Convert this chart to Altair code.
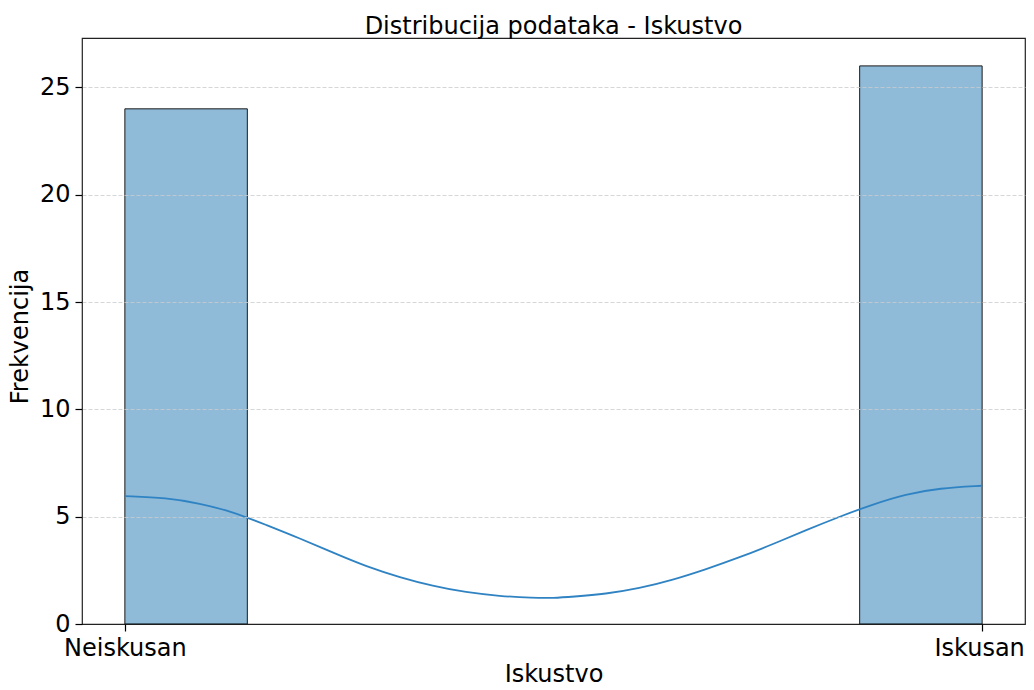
import altair as alt
import pandas as pd

# Histogram bins (7 bins over 0..1) – only non-empty bins drawn
bin_start = [0.0, 6 / 7]
bin_end = [1 / 7, 1.0]
counts = [24, 26]

# KDE curve (x in data units, y = frequency)
kde_x = [0.0, 0.049, 0.087, 0.126, 0.165, 0.204, 0.243, 0.282, 0.321, 0.359,
         0.398, 0.437, 0.476, 0.50, 0.522, 0.561, 0.600, 0.639, 0.678, 0.717,
         0.756, 0.795, 0.833, 0.872, 0.911, 0.950, 1.0]
kde_y = [5.96, 5.88, 5.62, 5.23, 4.61, 3.99, 3.32, 2.67, 2.17, 1.77,
         1.47, 1.30, 1.22, 1.21, 1.27, 1.40, 1.66, 2.05, 2.55, 3.10,
         3.72, 4.38, 4.99, 5.57, 6.05, 6.33, 6.44]

tick_vals = [0, 1]
tick_labels = ["Neiskusan", "Iskusan"]
y_ticks = [0, 5, 10, 15, 20, 25]

bars_df = pd.DataFrame({"x0": bin_start, "x1": bin_end, "n": counts})
kde_df = pd.DataFrame({"x": kde_x, "y": kde_y})

FONT = "DejaVu Sans"
FS = 24

label_expr = "datum.value == 0 ? '" + tick_labels[0] + "' : '" + tick_labels[1] + "'"

xscale = alt.Scale(domain=[-0.05, 1.05], nice=False, zero=False)
yscale = alt.Scale(domain=[0, 27.3], nice=False)

xaxis = alt.Axis(
    values=tick_vals, labelExpr=label_expr, title="Iskustvo", grid=False,
    domain=False, tickColor="black", tickSize=7, tickWidth=1.2,
    labelFont=FONT, labelFontSize=FS, labelColor="black", labelPadding=5,
    labelFlush=False, labelOverlap=False,
    labelOffset={"condition": {"test": "datum.value == 1", "value": -3}, "value": 0},
    titleFont=FONT, titleFontSize=FS, titleFontWeight="normal", titleColor="black",
    titleBaseline="alphabetic", titleY=57,
)
yaxis = alt.Axis(
    values=y_ticks, title="Frekvencija", grid=True, zindex=1,
    gridColor="#cccccc", gridDash=[4, 2], gridWidth=0.8,
    gridOpacity={"condition": {"test": "datum.value == 0", "value": 0}, "value": 1},
    domain=False, tickColor="black", tickSize=7, tickWidth=1.2,
    labelFont=FONT, labelFontSize=FS, labelColor="black", labelPadding=5,
    titleFont=FONT, titleFontSize=FS, titleFontWeight="normal", titleColor="black",
    titleX=-50, titleY=298,
)

bars = alt.Chart(bars_df).mark_rect(
    fill="#1f77b4", fillOpacity=0.5, stroke="#1a1a1a", strokeWidth=1
).encode(
    x=alt.X("x0:Q", scale=xscale, axis=xaxis),
    x2="x1:Q",
    y=alt.Y("n:Q", scale=yscale, axis=yaxis),
    y2=alt.datum(0),
)

kde = alt.Chart(kde_df).mark_line(
    color="#2f83c3", strokeWidth=1.8, interpolate="basis"
).encode(
    x=alt.X("x:Q", scale=xscale),
    y=alt.Y("y:Q", scale=yscale),
)

chart = alt.layer(bars, kde).properties(
    width=943,
    height=586,
    autosize=alt.AutoSizeParams(type="none"),
    padding={"left": 74, "top": 30, "right": 1, "bottom": 58},
    title=alt.TitleParams(
        "Distribucija podataka - Iskustvo", font=FONT, fontSize=FS,
        fontWeight="normal", color="black", anchor="middle", baseline="bottom",
        offset=2, dy=27,
    ),
).configure_view(stroke="#222222", strokeWidth=1.2)

chart.save("out.html", embed_options={"renderer": "svg", "actions": False})
